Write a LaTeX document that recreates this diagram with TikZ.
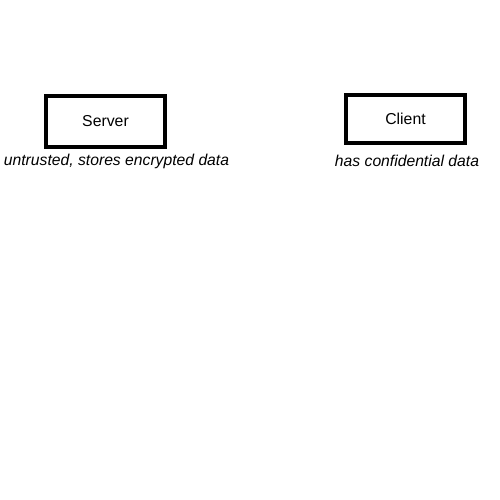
\documentclass[tikz,border=0pt]{standalone}
\usepackage{fontspec}
\setmainfont{Liberation Sans}
\begin{document}
\begin{tikzpicture}[x=1pt,y=-1pt,line join=miter,font=\fontsize{15.8}{18}\selectfont,
	party/.style={draw,line width=4pt,minimum width=119pt,minimum height=50pt,inner sep=0pt},
	role/.style={font=\fontsize{15.7}{18}\selectfont\itshape,inner sep=0pt}]
	\useasboundingbox (0,0) rectangle (500,500);
	\node[party] (server) at (105.5,121.5) {Server};
	\node[party,minimum height=48pt] (client) at (405.5,119) {Client};
	\node[role] (serverrole) at (116.5,161) {untrusted, stores encrypted data};
	\node[role] (clientrole) at (407,161) {has confidential data};
\end{tikzpicture}
\end{document}
